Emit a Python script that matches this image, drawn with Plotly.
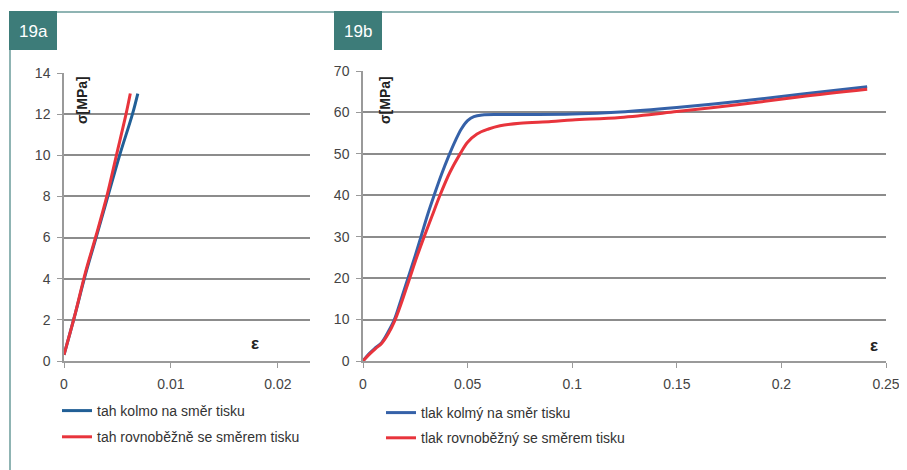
import plotly.graph_objects as go

# ---- data: 19a (tension) ----
a_eps_perp = [0, 0.001, 0.002, 0.003, 0.0041, 0.0052, 0.0064, 0.0069]
a_sig_perp = [0.3, 2.2, 4.2, 6.0, 8.0, 10.0, 12.0, 13.0]
a_eps_par = [0, 0.001, 0.002, 0.003, 0.004, 0.0049, 0.0058, 0.0062]
a_sig_par = [0.3, 2.2, 4.3, 6.1, 8.0, 10.0, 12.0, 13.0]

# ---- data: 19b (compression) ----
b_eps_perp = [0, 0.003, 0.006, 0.009, 0.012, 0.015, 0.018, 0.0215, 0.025, 0.028, 0.031,
              0.034, 0.0375, 0.041, 0.044, 0.047, 0.050, 0.053, 0.057, 0.065, 0.08, 0.1,
              0.123, 0.15, 0.18, 0.209, 0.241]
b_sig_perp = [0, 1.8, 3.2, 4.5, 7.0, 10.0, 14.5, 20.0, 25.5, 30.5, 35.5,
              40.0, 45.0, 49.5, 53.0, 56.0, 58.0, 59.0, 59.4, 59.5, 59.5, 59.6,
              60.1, 61.2, 62.7, 64.4, 66.2]
b_eps_par = [0, 0.003, 0.006, 0.009, 0.012, 0.015, 0.018, 0.022, 0.026, 0.0296, 0.033,
             0.0368, 0.0415, 0.0464, 0.050, 0.0545, 0.06, 0.0655, 0.075, 0.09, 0.1,
             0.123, 0.15, 0.18, 0.209, 0.241]
b_sig_par = [0, 1.6, 3.0, 4.3, 6.5, 9.5, 13.5, 19.5, 25.5, 30.5, 35.0,
             40.0, 45.5, 50.0, 52.8, 54.8, 56.0, 56.8, 57.4, 57.8, 58.2,
             58.8, 60.2, 61.9, 63.8, 65.6]

a_names = ["tah kolmo na směr tisku", "tah rovnoběžně se směrem tisku"]
b_names = ["tlak kolmý na směr tisku", "tlak rovnoběžný se směrem tisku"]
a_xticks = [0, 0.01, 0.02]
a_yticks = [0, 2, 4, 6, 8, 10, 12, 14]
b_xticks = [0, 0.05, 0.1, 0.15, 0.2, 0.25]
b_yticks = [0, 10, 20, 30, 40, 50, 60, 70]

# the page body has an 8px default margin; compensate
OFF = 8
W, H = 907 - OFF, 470 - OFF
def px(x):
    return (x - OFF) / W
def py(y):
    return 1 - (y - OFF) / H

BLUE_A = "#215f96"
BLUE_B = "#3561a8"
RED = "#e8343c"
FONT = "Liberation Sans Narrow, Arial Narrow, Liberation Sans, Arial"

fig = go.Figure()
fig.add_trace(go.Scatter(x=a_eps_perp, y=a_sig_perp, mode="lines", name=a_names[0],
                         line=dict(color=BLUE_A, width=3, shape="spline"),
                         xaxis="x", yaxis="y", legend="legend", legendgroup="a1"))
fig.add_trace(go.Scatter(x=a_eps_par, y=a_sig_par, mode="lines", name=a_names[1],
                         line=dict(color=RED, width=3, shape="spline"),
                         xaxis="x", yaxis="y", legend="legend", legendgroup="a2"))
fig.add_trace(go.Scatter(x=b_eps_perp, y=b_sig_perp, mode="lines", name=b_names[0],
                         line=dict(color=BLUE_B, width=3, shape="spline"),
                         xaxis="x2", yaxis="y2", legend="legend2", legendgroup="b1"))
fig.add_trace(go.Scatter(x=b_eps_par, y=b_sig_par, mode="lines", name=b_names[1],
                         line=dict(color=RED, width=3, shape="spline"),
                         xaxis="x2", yaxis="y2", legend="legend2", legendgroup="b2"))

axis_common = dict(showline=True, linecolor="#9a9a9a", linewidth=1.5,
                   ticks="outside", tickcolor="#9a9a9a", ticklen=5,
                   tickfont=dict(family=FONT, size=14, color="#444"),
                   ticklabelstandoff=4, zeroline=False)

fig.update_layout(
    width=W, height=H,
    margin=dict(l=0, r=0, t=0, b=0, autoexpand=False),
    paper_bgcolor="white", plot_bgcolor="white",
    xaxis=dict(domain=[px(64), px(310)], range=[0, 0.023], tickvals=a_xticks,
               ticktext=["0", "0.01", "0.02"], showgrid=False, anchor="y", **axis_common),
    yaxis=dict(domain=[py(361), py(73)], range=[0, 14], tickvals=a_yticks,
               showgrid=True, gridcolor="#8c8c8c", gridwidth=1.5, anchor="x", **axis_common),
    xaxis2=dict(domain=[px(363), px(886)], range=[0, 0.25], tickvals=b_xticks,
                ticktext=["0", "0.05", "0.1", "0.15", "0.2", "0.25"], showgrid=False,
                anchor="y2", **axis_common),
    yaxis2=dict(domain=[py(361), py(71)], range=[0, 70], tickvals=b_yticks,
                showgrid=True, gridcolor="#8c8c8c", gridwidth=1.5, anchor="x2", **axis_common),
    legend=dict(x=px(57), y=py(395), xanchor="left", yanchor="top",
                font=dict(family=FONT, size=14, color="#333"),
                bgcolor="rgba(0,0,0,0)", tracegroupgap=5, itemwidth=30),
    legend2=dict(x=px(381), y=py(397), xanchor="left", yanchor="top",
                 font=dict(family=FONT, size=14, color="#333"),
                 bgcolor="rgba(0,0,0,0)", tracegroupgap=4, itemwidth=30),
    showlegend=True,
)

# frame lines
fig.add_shape(type="line", xref="paper", yref="paper", x0=px(10), x1=1, y0=py(12), y1=py(12),
              line=dict(color="#8fb4b3", width=2))
fig.add_shape(type="line", xref="paper", yref="paper", x0=px(10), x1=px(10), y0=py(12), y1=0,
              line=dict(color="#8fb4b3", width=2))
# label boxes
for x0, x1, lab in [(9, 57, "19a"), (334, 382, "19b")]:
    fig.add_shape(type="rect", xref="paper", yref="paper", x0=px(x0), x1=px(x1),
                  y0=py(50), y1=py(11), fillcolor="#3d7c79", line=dict(width=0))
    fig.add_annotation(xref="paper", yref="paper", x=px((x0 + x1) / 2), y=py(31),
                       xanchor="center", yanchor="middle",
                       text=lab, showarrow=False,
                       font=dict(family="Liberation Sans, Arial", size=17, color="white"))

# axis titles
for xc in (82, 385):
    fig.add_annotation(xref="paper", yref="paper", x=px(xc), y=py(100), text="<b>σ[MPa]</b>",
                       xanchor="center", yanchor="middle",
                       textangle=-90, showarrow=False,
                       font=dict(family="Liberation Sans, Arial", size=14, color="#222"))
for xc, yc in ((255, 343), (874, 345)):
    fig.add_annotation(xref="paper", yref="paper", x=px(xc), y=py(yc), text="<b>ε</b>",
                       xanchor="center", yanchor="middle", showarrow=False,
                       font=dict(family="Liberation Sans, Arial", size=17, color="#222"))

fig.write_html("out.html")
